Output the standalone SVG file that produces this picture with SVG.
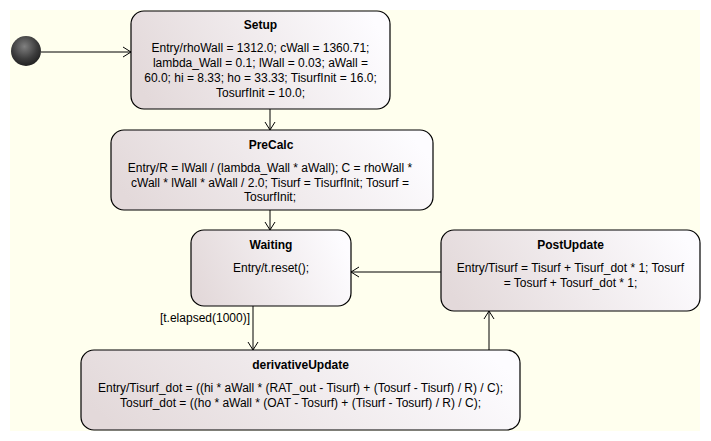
<svg xmlns="http://www.w3.org/2000/svg" width="711" height="441" viewBox="0 0 711 441">
<defs>
<linearGradient id="nodeFill" x1="0" y1="0.6" x2="1" y2="0.4">
<stop offset="0" stop-color="#E3D9DA"/>
<stop offset="1" stop-color="#FDFCFF"/>
</linearGradient>
<radialGradient id="ball" cx="0.45" cy="0.35" r="0.7">
<stop offset="0" stop-color="#808080"/>
<stop offset="0.6" stop-color="#3c3c3c"/>
<stop offset="1" stop-color="#1c1c1c"/>
</radialGradient>
<marker id="arr" markerWidth="10" markerHeight="12" refX="9" refY="6" orient="auto" markerUnits="userSpaceOnUse">
<path d="M1,1 L9,6 L1,11" fill="none" stroke="#000" stroke-width="1"/>
</marker>
</defs>
<style>
.node{fill:url(#nodeFill);stroke:#000;stroke-width:1.2}
.t{font-family:"Liberation Sans",Arial,sans-serif;font-size:12px;fill:#000;text-anchor:middle}
.b{font-weight:bold}
.c{stroke:#000;stroke-width:1;fill:none;marker-end:url(#arr)}
.lbl{font-family:"Liberation Sans",Arial,sans-serif;font-size:12px;fill:#000;text-anchor:end}
</style>
<rect x="0" y="0" width="711" height="441" fill="#FFFFFF"/>
<rect x="10" y="10" width="690" height="421" fill="#FFFFEE"/>

<g id="connectors">
<line class="c" x1="41" y1="52" x2="131" y2="52"/>
<line class="c" x1="270" y1="109" x2="270" y2="130"/>
<line class="c" x1="270" y1="210" x2="270" y2="230"/>
<line class="c" x1="253" y1="306" x2="253" y2="350"/>
<text class="lbl" x="250" y="322">[t.elapsed(1000)]</text>
<line class="c" x1="489" y1="350" x2="489" y2="311"/>
<line class="c" x1="441" y1="272" x2="351" y2="272"/>
</g>

<g id="initial">
<circle cx="26" cy="51" r="15" fill="url(#ball)"/>
</g>

<g id="Setup">
<rect class="node" x="131" y="11" width="259" height="98" rx="13"/>
<text class="t b" x="260.5" y="29">Setup</text>
<text class="t" x="260.5" y="52">Entry/rhoWall = 1312.0; cWall = 1360.71;</text>
<text class="t" x="260.5" y="67">lambda_Wall = 0.1; lWall = 0.03; aWall =</text>
<text class="t" x="260.5" y="82">60.0; hi = 8.33; ho = 33.33; TisurfInit = 16.0;</text>
<text class="t" x="260.5" y="97">TosurfInit = 10.0;</text>
</g>

<g id="PreCalc">
<rect class="node" x="111" y="130" width="322" height="80" rx="13"/>
<text class="t b" x="271" y="149">PreCalc</text>
<text class="t" x="270" y="172">Entry/R = lWall / (lambda_Wall * aWall); C = rhoWall *</text>
<text class="t" x="270" y="187">cWall * lWall * aWall / 2.0; Tisurf = TisurfInit; Tosurf =</text>
<text class="t" x="270" y="201">TosurfInit;</text>
</g>

<g id="Waiting">
<rect class="node" x="191" y="230" width="160" height="76" rx="13"/>
<text class="t b" x="271" y="249">Waiting</text>
<text class="t" x="271" y="272">Entry/t.reset();</text>
</g>

<g id="PostUpdate">
<rect class="node" x="441" y="230" width="259" height="81" rx="13"/>
<text class="t b" x="570.5" y="249">PostUpdate</text>
<text class="t" x="570.5" y="272">Entry/Tisurf = Tisurf + Tisurf_dot * 1; Tosurf</text>
<text class="t" x="570.5" y="287">= Tosurf + Tosurf_dot * 1;</text>
</g>

<g id="derivativeUpdate">
<rect class="node" x="81" y="350" width="439" height="80" rx="13"/>
<text class="t b" x="300.5" y="369">derivativeUpdate</text>
<text class="t" x="300.5" y="392">Entry/Tisurf_dot = ((hi * aWall * (RAT_out - Tisurf) + (Tosurf - Tisurf) / R) / C);</text>
<text class="t" x="300.5" y="407">Tosurf_dot = ((ho * aWall * (OAT - Tosurf) + (Tisurf - Tosurf) / R) / C);</text>
</g>
</svg>
